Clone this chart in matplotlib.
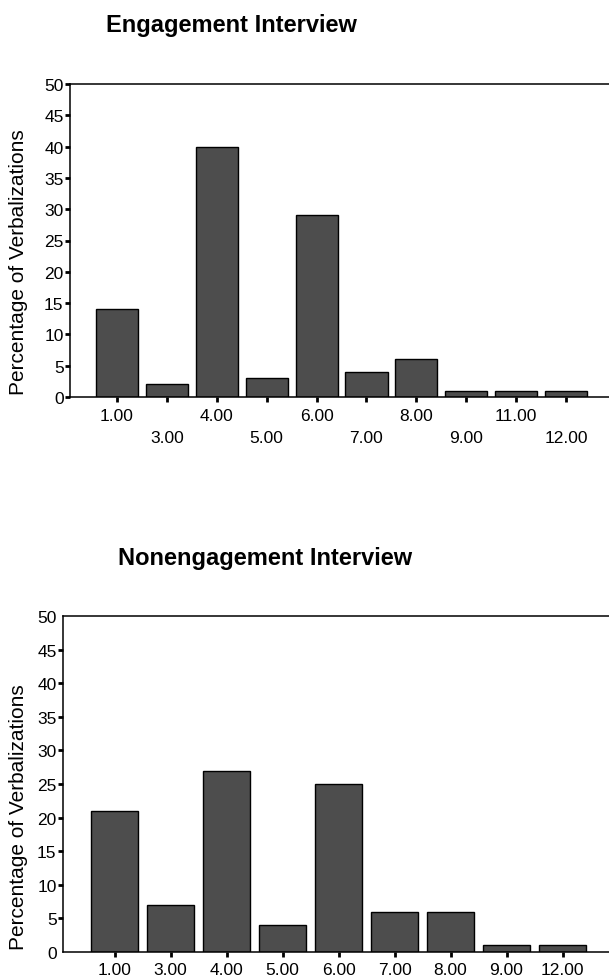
import numpy as np
import matplotlib
matplotlib.use('Agg')
import matplotlib.pyplot as plt

plt.rcParams['font.family'] = ['Liberation Sans', 'DejaVu Sans']

eng_labels = ['1.00', '3.00', '4.00', '5.00', '6.00', '7.00', '8.00', '9.00', '11.00', '12.00']
eng_values = [14, 2, 40, 3, 29, 4, 6, 1, 1, 1]

non_labels = ['1.00', '3.00', '4.00', '5.00', '6.00', '7.00', '8.00', '9.00', '12.00']
non_values = [21, 7, 27, 4, 25, 6, 6, 1, 1]

yticks = [0, 5, 10, 15, 20, 25, 30, 35, 40, 45, 50]
ylabel = 'Percentage of Verbalizations'

fig = plt.figure(figsize=(6.09, 9.78), dpi=100)


def style_axes(ax):
    ax.set_ylim(0, 50)
    ax.set_yticks(yticks)
    ax.spines['right'].set_visible(False)
    for s in ['left', 'bottom', 'top']:
        ax.spines[s].set_linewidth(1.1)
    ax.tick_params(axis='y', which='major', length=3.6, width=2, pad=1,
                   labelsize=12.5)
    ax.tick_params(axis='x', which='both', length=3.6, width=2,
                   labelsize=12.5)


# top chart: labels staggered on two rows
ax1 = fig.add_axes([70 / 609, 1 - 398 / 978, 1 - 70 / 609, 313 / 978])
x1 = np.arange(len(eng_labels))
ax1.bar(x1, eng_values, width=0.842, color='#4d4d4d', edgecolor='black',
        linewidth=1.0)
ax1.set_xlim(-0.942, 9.86)
style_axes(ax1)
ax1.set_xticks(x1[::2])
ax1.set_xticklabels(eng_labels[::2])
ax1.set_xticks(x1[1::2], minor=True)
ax1.set_xticklabels(eng_labels[1::2], minor=True)
ax1.tick_params(axis='x', which='major', pad=4)
ax1.tick_params(axis='x', which='minor', pad=20.5)

# bottom chart
ax2 = fig.add_axes([63 / 609, 1 - 953 / 978, 1 - 63 / 609, 336 / 978])
x2 = np.arange(len(non_labels))
ax2.bar(x2, non_values, width=0.84, color='#4d4d4d', edgecolor='black',
        linewidth=1.0)
ax2.set_xlim(-0.92, 8.83)
style_axes(ax2)
ax2.set_xticks(x2)
ax2.set_xticklabels(non_labels)
ax2.tick_params(axis='x', which='major', pad=3.6)
# no tick marks at 0 and 50 on the lower chart
yt = ax2.yaxis.get_major_ticks()
yt[0].tick1line.set_visible(False)
yt[-1].tick1line.set_visible(False)

fig.text(106 / 609, 1 - 32 / 978, 'Engagement Interview', fontsize=17,
         fontweight='bold', ha='left', va='baseline')
fig.text(118 / 609, 1 - 565 / 978, 'Nonengagement Interview', fontsize=17,
         fontweight='bold', ha='left', va='baseline')

fig.text(19 / 609, 1 - 262 / 978, ylabel, fontsize=15, rotation=90,
         ha='center', va='center')
fig.text(19 / 609, 1 - 817 / 978, ylabel, fontsize=15, rotation=90,
         ha='center', va='center')

fig.savefig('out.png', dpi=100)
